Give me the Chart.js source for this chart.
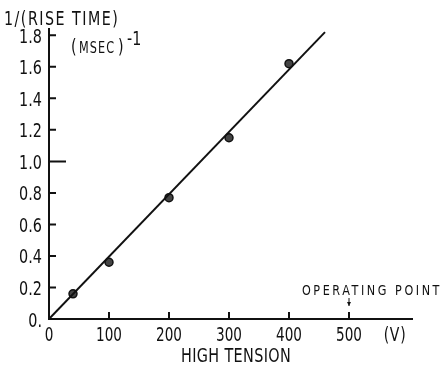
<!DOCTYPE html>
<html>
<head>
<meta charset="utf-8">
<script src="https://cdn.jsdelivr.net/npm/chart.js@4.4.0/dist/chart.umd.min.js"></script>
<style>
  html, body { margin: 0; padding: 0; background: #fff; }
  #wrap { width: 443px; height: 370px; }
</style>
</head>
<body>
<div id="wrap"><canvas id="chart"></canvas></div>
<script>
// measured points: high tension (V) vs 1/(rise time) (msec^-1)
const voltages = [40, 100, 200, 300, 400];
const riseRates = [0.16, 0.36, 0.77, 1.15, 1.62];
// straight fit line drawn through origin
const fitX = [0, 460];
const fitY = [0, 1.82];

const xTicks = [0, 100, 200, 300, 400, 500];
const xTickLabels = ['0', '100', '200', '300', '400', '500'];
const yTicks = [0, 0.2, 0.4, 0.6, 0.8, 1.0, 1.2, 1.4, 1.6, 1.8];
const yTickLabels = ['0.', '0.2', '0.4', '0.6', '0.8', '1.0', '1.2', '1.4', '1.6', '1.8'];
const operatingPoint = 500;

const FONT = "'DejaVu Sans', sans-serif";
const INK = '#111';

// typewriter-ish condensed text: squeeze DejaVu horizontally
function label(ctx, text, x, y, size, align, sx, spacing) {
  ctx.save();
  ctx.translate(x, y);
  ctx.scale(sx, 1);
  ctx.font = `${size}px ${FONT}`;
  ctx.letterSpacing = (spacing || 0) + 'px';
  ctx.textAlign = align;
  ctx.textBaseline = 'alphabetic';
  ctx.fillText(text, 0, 0);
  ctx.restore();
}

// inward tick marks, tick labels and the loose captions of the scanned figure
const decorations = {
  id: 'decorations',
  afterDraw(chart) {
    const { ctx, scales: { x, y } } = chart;
    const x0 = x.getPixelForValue(0);
    const y0 = y.getPixelForValue(0);
    ctx.save();
    ctx.strokeStyle = INK;
    ctx.fillStyle = INK;
    ctx.lineWidth = 2;
    ctx.beginPath();
    yTicks.slice(1).forEach(v => {
      const py = y.getPixelForValue(v);
      ctx.moveTo(x0, py);
      ctx.lineTo(x0 + (v === 1.0 ? 17 : 7), py);
    });
    xTicks.slice(1).forEach(v => {
      const px = x.getPixelForValue(v);
      ctx.moveTo(px, y0);
      ctx.lineTo(px, y0 - 7);
    });
    ctx.stroke();

    yTicks.forEach((v, i) => {
      label(ctx, yTickLabels[i], 42, y.getPixelForValue(v) + 7.5, 20, 'right', 0.72, 0);
    });
    xTicks.forEach((v, i) => {
      label(ctx, xTickLabels[i], x.getPixelForValue(v), 341, 20, 'center', 0.68, 0);
    });
    label(ctx, '(V)', 395, 341, 20, 'center', 0.7, 1);
    label(ctx, 'HIGH TENSION', 236, 362, 20, 'center', 0.72, 0.5);

    label(ctx, '1/(RISE TIME)', 4, 25, 19, 'left', 0.75, 2);

    // (MSEC)^-1
    label(ctx, '(', 71, 53, 19, 'left', 0.75, 0);
    label(ctx, 'MSEC', 79, 53, 15, 'left', 0.75, 1.5);
    label(ctx, ')', 118, 53, 19, 'left', 0.75, 0);
    label(ctx, '-1', 127, 45, 19, 'left', 0.75, 0);

    // operating point marker
    const op = x.getPixelForValue(operatingPoint);
    label(ctx, 'OPERATING POINT', 372, 295, 14, 'center', 0.8, 3.2);
    ctx.lineWidth = 1;
    ctx.beginPath();
    ctx.moveTo(op, 298);
    ctx.lineTo(op, 306);
    ctx.stroke();
    ctx.beginPath();
    ctx.moveTo(op - 2, 302);
    ctx.lineTo(op + 2, 302);
    ctx.lineTo(op, 306);
    ctx.closePath();
    ctx.fill();
    ctx.restore();
  }
};

new Chart(document.getElementById('chart'), {
  type: 'scatter',
  data: {
    datasets: [
      {
        type: 'line',
        data: fitX.map((v, i) => ({ x: v, y: fitY[i] })),
        borderColor: INK,
        borderWidth: 2,
        pointRadius: 0,
        fill: false
      },
      {
        data: voltages.map((v, i) => ({ x: v, y: riseRates[i] })),
        backgroundColor: '#444',
        borderColor: INK,
        borderWidth: 1.5,
        pointRadius: 4
      }
    ]
  },
  options: {
    responsive: true,
    maintainAspectRatio: false,
    animation: false,
    layout: { padding: { top: 29, right: 31, left: 0, bottom: 0 } },
    plugins: { legend: { display: false }, tooltip: { enabled: false } },
    scales: {
      x: {
        type: 'linear',
        min: 0,
        max: 605,
        afterBuildTicks: s => { s.ticks = xTicks.map(v => ({ value: v })); },
        afterFit: s => { s.height = 51; },
        grid: { display: false, drawTicks: false },
        border: { display: true, color: INK, width: 2 },
        ticks: { display: false }
      },
      y: {
        type: 'linear',
        min: 0,
        max: 1.84,
        afterBuildTicks: s => { s.ticks = yTicks.map(v => ({ value: v })); },
        afterFit: s => { s.width = 49; },
        grid: { display: false, drawTicks: false },
        border: { display: true, color: INK, width: 2 },
        ticks: { display: false }
      }
    }
  },
  plugins: [decorations]
});
</script>
</body>
</html>
